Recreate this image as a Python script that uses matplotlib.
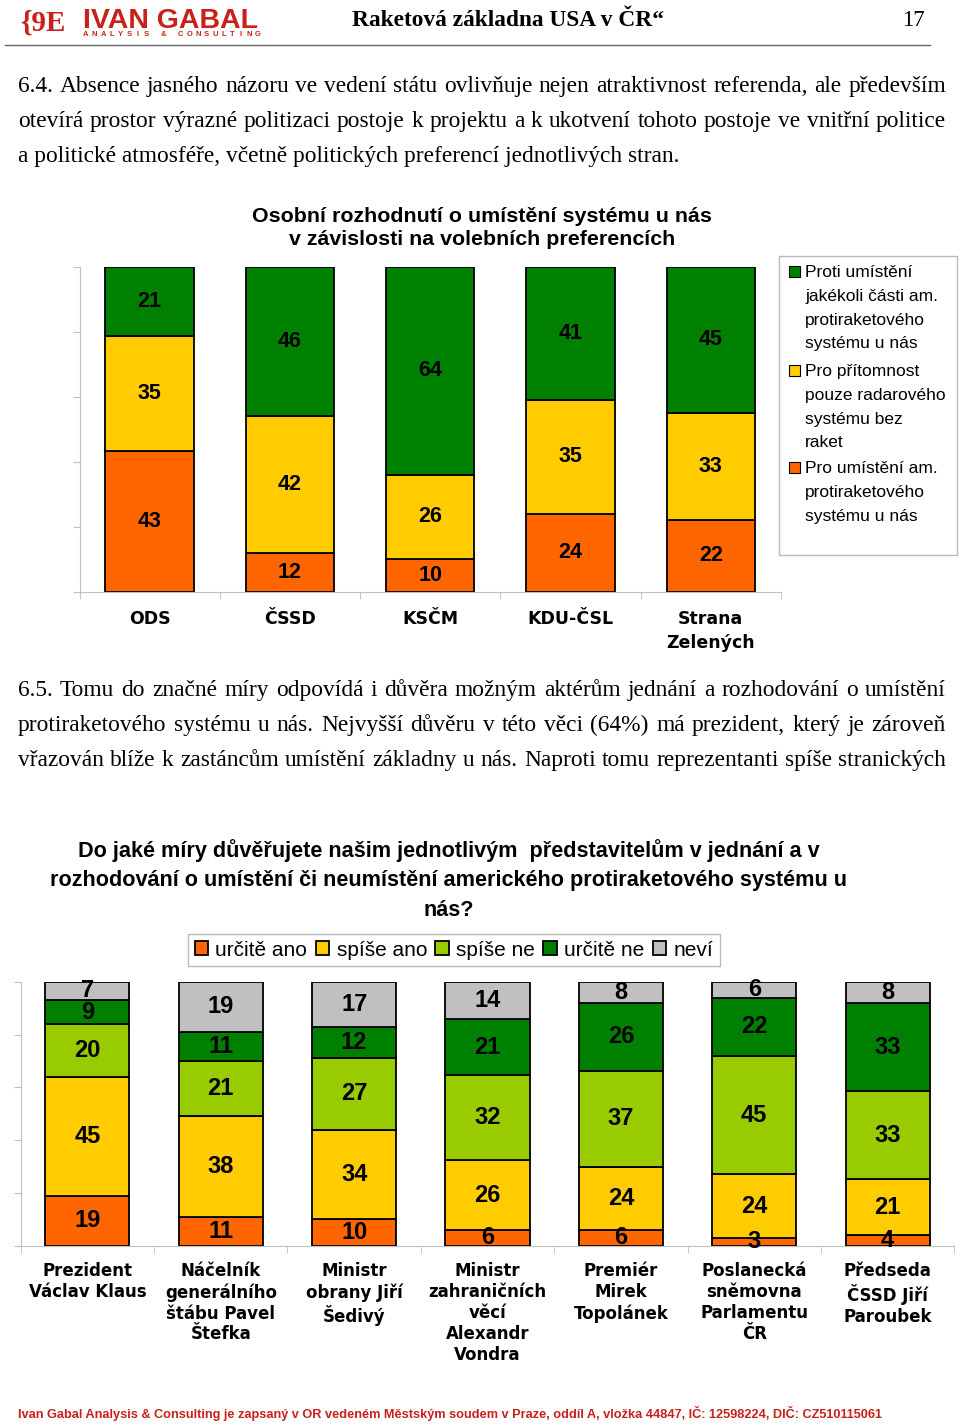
import numpy as np
import matplotlib.pyplot as plt
from matplotlib.patches import Rectangle
from matplotlib.lines import Line2D

W, H = 960, 1427

# ---- chart 1: personal decision by party preference (bottom -> top)
parties = ['ODS', 'ČSSD', 'KSČM', 'KDU-ČSL', 'Strana\nZelených']
pro_system = [43, 12, 10, 24, 22]
radar_only = [35, 42, 26, 35, 33]
against_all = [21, 46, 64, 41, 45]
top_labels = ['Proti umístění\njakékoli části am.\nprotiraketového\nsystému u nás',
              'Pro přítomnost\npouze radarového\nsystému bez\nraket',
              'Pro umístění am.\nprotiraketového\nsystému u nás']

# ---- chart 2: trust in actors (bottom -> top)
actors = ['Prezident\nVáclav Klaus', 'Náčelník\ngenerálního\nštábu Pavel\nŠtefka',
          'Ministr\nobrany Jiří\nŠedivý', 'Ministr\nzahraničních\nvěcí\nAlexandr\nVondra',
          'Premiér\nMirek\nTopolánek', 'Poslanecká\nsněmovna\nParlamentu\nČR',
          'Předseda\nČSSD Jiří\nParoubek']
urcite_ano = [19, 11, 10, 6, 6, 3, 4]
spise_ano = [45, 38, 34, 26, 24, 24, 21]
spise_ne = [20, 21, 27, 32, 37, 45, 33]
urcite_ne = [9, 11, 12, 21, 26, 22, 33]
nevi = [7, 19, 17, 14, 8, 6, 8]
answers = ['určitě ano', 'spíše ano', 'spíše ne', 'určitě ne', 'neví']

ORANGE, YELLOW, LIME, GREEN, GREY = '#FF6600', '#FFCC00', '#99CC00', '#008000', '#C0C0C0'
RED = '#C8201A'
SERIF = ['Liberation Serif', 'DejaVu Serif']
SANS = ['Liberation Sans', 'DejaVu Sans']
NARROW = ['Liberation Sans Narrow', 'Liberation Sans', 'DejaVu Sans']
VERD = ['DejaVu Sans']
PSIZE = 16.8

fig = plt.figure(figsize=(W / 100, H / 100), dpi=100)


def fx(x):
    return x / W


def fy(y):
    return 1 - y / H


def box(l, t, r, b):
    return [l / W, 1 - b / H, (r - l) / W, (b - t) / H]


def justify(text, x0, x1, y, size):
    # place words so that the line fills x0..x1 like justified text
    words = text.split()
    objs = [fig.text(0, fy(y), w, fontsize=size, family=SERIF, va='baseline') for w in words]
    r = fig.canvas.get_renderer()
    widths = [o.get_window_extent(r).width for o in objs]
    gap = (x1 - x0 - sum(widths)) / (len(words) - 1)
    x = x0
    for o, w in zip(objs, widths):
        o.set_x(fx(x))
        x += w + gap


def stacked(ax, series, colors, size, family):
    data = np.array(series, dtype=float)
    pct = data / data.sum(axis=0) * 100
    x = np.arange(data.shape[1])
    bottom = np.zeros(data.shape[1])
    handles = []
    for row, raw, c in zip(pct, data, colors):
        bars = ax.bar(x, row, 0.63, bottom=bottom, color=c, edgecolor='black', linewidth=1.3)
        ax.bar_label(bars, labels=[f'{v:g}' for v in raw], label_type='center',
                     fontsize=size, fontweight='bold', family=family)
        bottom += row
        handles.append(bars)
    return handles


def style_axis(ax, cats, n, size, pad, ls):
    ax.set_xlim(-0.5, n - 0.5)
    ax.set_ylim(0, 100)
    for s in ['top', 'right']:
        ax.spines[s].set_visible(False)
    for s in ['left', 'bottom']:
        ax.spines[s].set_color('#C0C0C0')
    ax.set_yticks(np.arange(0, 101, 20))
    ax.set_yticklabels([])
    ax.tick_params(axis='y', length=5, color='#C0C0C0')
    ax.set_xticks(np.arange(n))
    ax.set_xticklabels(cats, fontsize=size, fontweight='bold', family=VERD, linespacing=ls)
    ax.set_xticks(np.arange(n + 1) - 0.5, minor=True)
    ax.tick_params(axis='x', which='major', length=0, pad=pad)
    ax.tick_params(axis='x', which='minor', length=5, color='#C0C0C0')


# ---- page header
fig.text(fx(20), fy(31), '{9E', fontsize=21, fontweight='bold', family=SERIF, color=RED, va='baseline')
fig.text(fx(83), fy(28), 'IVAN GABAL', fontsize=20.5, fontweight='bold', family=SANS, color=RED, va='baseline')
sub = 'ANALYSIS & CONSULTING'
for i, ch in enumerate(sub):
    fig.text(fx(86 + i * (258 - 86) / (len(sub) - 1)), fy(36.5), ch, fontsize=5.5, fontweight='bold',
             family=SANS, color=RED, ha='center', va='baseline')
fig.text(fx(508), fy(26), 'Raketová základna USA v ČR“', fontsize=16.8, fontweight='bold',
         family=SERIF, ha='center', va='baseline')
fig.text(fx(925), fy(26), '17', fontsize=16.5, family=SERIF, ha='right', va='baseline')
fig.add_artist(Line2D([fx(5), fx(930)], [fy(45), fy(45)], color='#666666', lw=1))

# ---- paragraph 6.4
justify('6.4. Absence jasného názoru ve vedení státu ovlivňuje nejen atraktivnost referenda, ale především',
        18, 946, 92, PSIZE)
justify('otevírá prostor výrazné politizaci postoje k projektu a k ukotvení tohoto postoje ve vnitřní politice',
        18, 946, 127, PSIZE)
fig.text(fx(18), fy(162), 'a politické atmosféře, včetně politických preferencí jednotlivých stran.',
         fontsize=PSIZE, family=SERIF, va='baseline')

# ---- chart 1
fig.text(fx(482), fy(228), 'Osobní rozhodnutí o umístění systému u nás\nv závislosti na volebních preferencích',
         fontsize=15.4, fontweight='bold', family=SANS, ha='center', va='center', linespacing=1.28)
ax1 = fig.add_axes(box(79.5, 266.7, 781, 591.7))
stacked(ax1, [pro_system, radar_only, against_all], [ORANGE, YELLOW, GREEN], 15.5, NARROW)
style_axis(ax1, parties, len(parties), 12.5, 13, 1.45)

fig.add_artist(Rectangle((fx(779), fy(555)), (957 - 779) / W, (555 - 256) / H,
                         transform=fig.transFigure, fill=False, edgecolor='#BBBBBB', lw=1))
for lab, c, y0 in zip(top_labels, [GREEN, YELLOW, ORANGE], [271, 370, 467]):
    fig.add_artist(Rectangle((fx(789), fy(y0 + 6)), 11 / W, 11 / H, transform=fig.transFigure,
                             facecolor=c, edgecolor='black', lw=0.8))
    for i, line in enumerate(lab.split('\n')):
        fig.text(fx(805), fy(y0 + 6 + i * 23.8), line, fontsize=12.5, family=SANS, va='baseline')

# ---- paragraph 6.5
justify('6.5. Tomu do značné míry odpovídá i důvěra možným aktérům jednání a rozhodování o umístění',
        18, 946, 696, PSIZE)
justify('protiraketového systému u nás. Nejvyšší důvěru v této věci (64%) má prezident, který je zároveň',
        18, 946, 731, PSIZE)
justify('vřazován blíže k zastáncům umístění základny u nás. Naproti tomu reprezentanti spíše stranických',
        18, 946, 766, PSIZE)

# ---- chart 2
fig.text(fx(449), fy(880), 'Do jaké míry důvěřujete našim jednotlivým  představitelům v jednání a v\n'
         'rozhodování o umístění či neumístění amerického protiraketového systému u\nnás?',
         fontsize=15.6, fontweight='bold', family=SANS, ha='center', va='center', linespacing=1.52)
ax2 = fig.add_axes(box(20.7, 981.7, 954.3, 1245.7))
h = stacked(ax2, [urcite_ano, spise_ano, spise_ne, urcite_ne, nevi],
            [ORANGE, YELLOW, LIME, GREEN, GREY], 17, SANS)
style_axis(ax2, actors, len(actors), 12, 12, 1.2)
leg = fig.legend(h, answers, loc='center', bbox_to_anchor=(fx(454), fy(950)), ncol=5,
                 prop={'family': SANS, 'size': 15}, handlelength=0.65, handleheight=0.65,
                 handletextpad=0.35, columnspacing=0.4, borderpad=0.3, fancybox=False,
                 edgecolor='#BBBBBB', framealpha=1)
leg.get_frame().set_linewidth(1)

# ---- footer
fig.text(fx(18), fy(1418), 'Ivan Gabal Analysis & Consulting je zapsaný v OR vedeném Městským soudem v Praze, '
         'oddíl A, vložka 44847, IČ: 12598224, DIČ: CZ510115061',
         fontsize=9.2, fontweight='bold', family=NARROW, color=RED, va='baseline')

fig.savefig('out.png', dpi=100)
